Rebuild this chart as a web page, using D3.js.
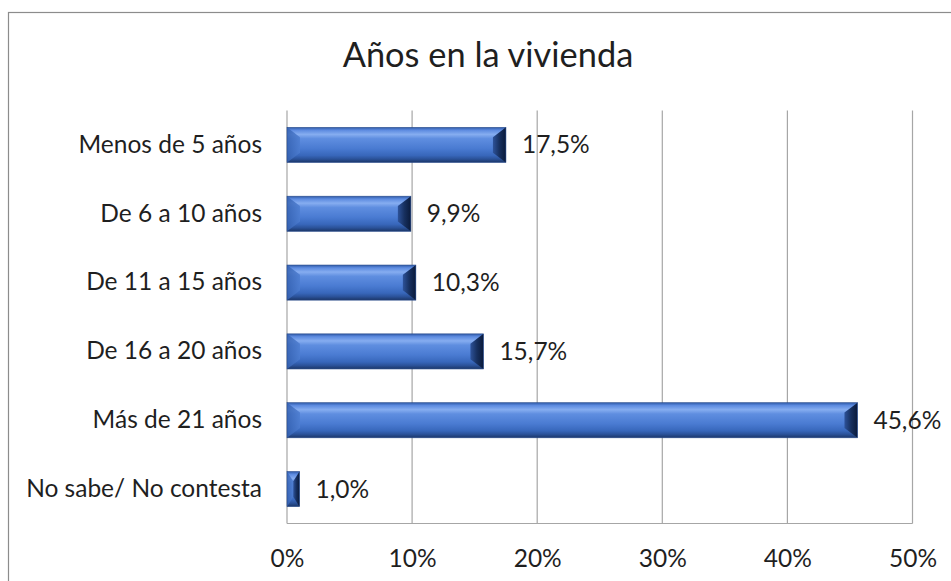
<!DOCTYPE html>
<html>
<head>
<meta charset="utf-8">
<script src="https://cdn.jsdelivr.net/npm/d3@7"></script>
<style>
  html, body { margin: 0; padding: 0; background: #fff; }
  svg { display: block; }
  text { font-family: Lato, "Open Sans", sans-serif; fill: #1f1f1f; }
</style>
</head>
<body>
<svg id="chart" width="951" height="581"></svg>
<script>
const title = "Años en la vivienda";
const categories = ["Menos de 5 años", "De 6 a 10 años", "De 11 a 15 años", "De 16 a 20 años", "Más de 21 años", "No sabe/ No contesta"];
const values = [17.5, 9.9, 10.3, 15.7, 45.6, 1.0];
const valueLabels = ["17,5%", "9,9%", "10,3%", "15,7%", "45,6%", "1,0%"];
const tickValues = [0, 10, 20, 30, 40, 50];
const tickLabels = ["0%", "10%", "20%", "30%", "40%", "50%"];

const svg = d3.select("#chart");
const W = 951, H = 581;
const plot = { left: 287, right: 912.5, top: 110.5, bottom: 523.5 };
const fs = 24.5;

// outer border (chart area)
svg.append("rect").attr("x", 8.5).attr("y", 12.5).attr("width", W + 10).attr("height", H + 10)
  .attr("fill", "#fff").attr("stroke", "#8c8c8c").attr("stroke-width", 1.2);

const defs = svg.append("defs");
const gBody = defs.append("linearGradient").attr("id", "gBody").attr("x1", 0).attr("y1", 0).attr("x2", 0).attr("y2", 1);
[[0, "#2f5aa8"], [0.08, "#5d8be0"], [0.2, "#86adf0"], [0.32, "#5f8ee0"], [0.6, "#4a7bd2"], [0.8, "#3867bb"], [0.9, "#2b5299"], [1, "#1b3668"]]
  .forEach(([o, c]) => gBody.append("stop").attr("offset", o).attr("stop-color", c));
const gRight = defs.append("linearGradient").attr("id", "gRight").attr("x1", 0).attr("y1", 0).attr("x2", 1).attr("y2", 0);
[[0, "#2d5299"], [0.5, "#17305f"], [1, "#0a1a3a"]]
  .forEach(([o, c]) => gRight.append("stop").attr("offset", o).attr("stop-color", c));
const gLeft = defs.append("linearGradient").attr("id", "gLeft").attr("x1", 0).attr("y1", 0).attr("x2", 1).attr("y2", 0);
[[0, "#3562b2"], [1, "#4d7dd0"]]
  .forEach(([o, c]) => gLeft.append("stop").attr("offset", o).attr("stop-color", c));

const x = d3.scaleLinear().domain([0, 50]).range([plot.left, plot.right]);
const y = d3.scaleBand().domain(categories).range([plot.top, plot.bottom]).paddingInner(0.49).paddingOuter(0.245);

// gridlines
svg.append("g").selectAll("line").data(tickValues).join("line")
  .attr("x1", d => x(d)).attr("x2", d => x(d))
  .attr("y1", plot.top).attr("y2", plot.bottom)
  .attr("stroke", "#a6a6a6").attr("stroke-width", 1.2);
// bottom axis line
svg.append("line").attr("x1", plot.left).attr("x2", plot.right).attr("y1", plot.bottom).attr("y2", plot.bottom)
  .attr("stroke", "#a6a6a6").attr("stroke-width", 1.2);

// x-axis labels via d3 axis
const xAxis = d3.axisBottom(x).tickValues(tickValues).tickFormat((d, i) => tickLabels[i]).tickSize(0).tickPadding(0);
const gx = svg.append("g").attr("transform", `translate(0,${plot.bottom})`).call(xAxis);
gx.select(".domain").remove();
gx.selectAll("text").attr("font-size", fs).attr("dy", null).attr("y", 43).attr("fill", "#1f1f1f")
  .style("font-family", "Lato, sans-serif");

// y-axis labels
const yAxis = d3.axisLeft(y).tickSize(0).tickPadding(25);
const gy = svg.append("g").attr("transform", `translate(${plot.left},0)`).call(yAxis);
gy.select(".domain").remove();
gy.selectAll("text").attr("font-size", fs).attr("fill", "#1f1f1f").style("font-family", "Lato, sans-serif");

// bars
const bars = svg.append("g").selectAll("g").data(values).join("g");
bars.each(function (v, i) {
  const g = d3.select(this);
  const x0 = x(0), x1 = x(v), y0 = y(categories[i]), h = y.bandwidth(), y1 = y0 + h;
  const w = x1 - x0;
  const b = Math.min(13, w / 2);
  const bv = h * 0.28;
  g.append("rect").attr("x", x0).attr("y", y0).attr("width", w).attr("height", h).attr("fill", "url(#gBody)");
  // left bevel
  g.append("polygon").attr("points", [[x0, y0], [x0 + b, y0 + bv], [x0 + b, y1 - bv], [x0, y1]].join(" "))
    .attr("fill", "url(#gLeft)").attr("opacity", 0.85);
  // right bevel
  g.append("polygon").attr("points", [[x1, y0], [x1 - b, y0 + bv], [x1 - b, y1 - bv], [x1, y1]].join(" "))
    .attr("fill", "url(#gRight)");
  g.append("rect").attr("x", x0).attr("y", y0).attr("width", w).attr("height", h)
    .attr("fill", "none").attr("stroke", "#2a4c8c").attr("stroke-width", 0.6);
});

// value labels
svg.append("g").selectAll("text").data(values).join("text")
  .attr("x", d => x(d) + 16)
  .attr("y", (d, i) => y(categories[i]) + y.bandwidth() / 2)
  .attr("dy", "0.35em")
  .attr("font-size", fs)
  .text((d, i) => valueLabels[i]);

// title
svg.append("text").attr("x", 488).attr("y", 67).attr("text-anchor", "middle")
  .attr("font-size", 34.4).text(title);
</script>
</body>
</html>
